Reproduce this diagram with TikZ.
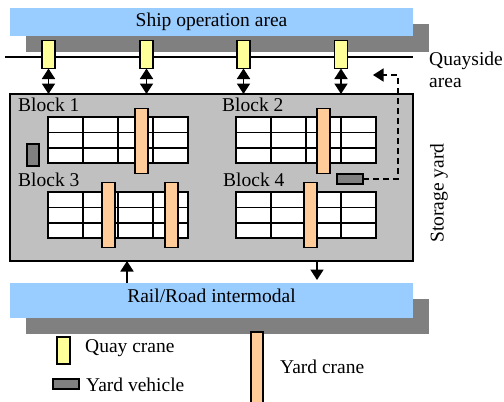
\documentclass[tikz,border=0pt]{standalone}
\usepackage{fontspec}
\setmainfont{Liberation Serif}
\usetikzlibrary{arrows.meta,calc}
\definecolor{seablue}{HTML}{99CCFF}
\definecolor{shadowgrey}{HTML}{808080}
\definecolor{yardgrey}{HTML}{C0C0C0}
\definecolor{quayyellow}{HTML}{FFFF99}
\definecolor{craneorange}{HTML}{FFCC99}
\tikzset{
  box/.style={rectangle,inner sep=0pt,outer sep=0pt},
  areabar/.style={box,fill=seablue,minimum width=403pt,font=\fontsize{19.5}{22}\selectfont},
  barshadow/.style={box,fill=shadowgrey,minimum width=403pt},
  quaycrane/.style={box,draw=black,line width=1.5pt,fill=quayyellow,minimum width=13pt,minimum height=28pt},
  yardcrane/.style={box,draw=black,line width=1.5pt,fill=craneorange,minimum width=13pt,minimum height=65pt},
  vehicle/.style={box,draw=black,line width=1.5pt,fill=shadowgrey},
  label/.style={inner sep=0pt,font=\fontsize{19.5}{22}\selectfont},
  bighead/.tip={Triangle[width=13pt,length=10.5pt]},
  flow/.style={line width=1.8pt,-bighead},
  dflow/.style={line width=1.8pt,bighead-bighead},
}
% a storage block: 4 bays x 3 rows, top-left corner at #1,#2
\newcommand{\stackgrid}[2]{%
  \draw[line width=1.5pt,fill=white] (#1,#2) rectangle ++(140,46);
  \foreach \c in {35,70,105}{\draw[line width=1.5pt] (#1+\c,#2) -- ++(0,46);}
  \foreach \r in {15.5,31}{\draw[line width=1.5pt] (#1,#2+\r) -- ++(140,0);}
}
\begin{document}
\begin{tikzpicture}[x=1pt,y=-1pt]
\useasboundingbox (0,0) rectangle (504,402);
\clip (0,0) rectangle (504,402);

% ship side
\node[barshadow,minimum height=28pt] (topshadow) at (227.5,38) {};
\node[areabar,minimum height=28pt] (ship) at (211.5,22) {Ship operation area};
\draw[line width=1.8pt] (5,57) coordinate (quayL) -- (413,57) coordinate (quayR);
\node[label,anchor=west] (quayside) at (429,61) {Quayside};
\node[label,anchor=west] (quaysidearea) at (429,83) {area};

% storage yard
\node[box,draw=black,line width=1.5pt,fill=yardgrey,minimum width=403pt,minimum height=167pt] (yard) at (211.5,177.5) {};
\node[label,rotate=90] (yardlabel) at (439,193) {Storage yard};

% quay cranes and their transfers to the yard
\foreach \i/\x in {1/48.5,2/146.5,3/243.5,4/341}{
  \node[quaycrane] (qc\i) at (\x,54.5) {};
  \draw[dflow] (qc\i.south) -- (qc\i.south |- yard.north);
}

% blocks
\node[label,anchor=west] (blk1) at (18,105) {Block 1};
\node[label,anchor=west] (blk2) at (222,105) {Block 2};
\node[label,anchor=west] (blk3) at (18,180) {Block 3};
\node[label,anchor=west] (blk4) at (223,180) {Block 4};
\stackgrid{48}{117}
\stackgrid{236}{117}
\stackgrid{48}{192}
\stackgrid{236}{192}

% yard cranes
\node[yardcrane] (yc1) at (141.5,141) {};
\node[yardcrane] (yc2) at (323.5,141) {};
\node[yardcrane] (yc3) at (108.5,215) {};
\node[yardcrane] (yc4) at (171.5,215) {};
\node[yardcrane] (yc5) at (310.5,215) {};

% yard vehicles
\node[vehicle,minimum width=12pt,minimum height=22pt] (v1) at (33,155) {};
\node[vehicle,minimum width=26pt,minimum height=10pt] (v2) at (350,179) {};
\coordinate (vtip) at (373,75);
\draw[line width=1.5pt,dash pattern=on 6pt off 4pt,-bighead]
  (v2.east) -- ($(v2.east)+(35,0)$) |- (vtip);

% hinterland side
\node[barshadow,minimum height=35pt] (railshadow) at (227.5,316.5) {};
\node[areabar,minimum height=35pt] (rail) at (211.5,300.5) {};
\node[label] (railtext) at (211.5,296) {Rail/Road intermodal};
\draw[flow] ([xshift=-84.5pt]rail.north) -- ([xshift=-84.5pt]rail.north |- yard.south);
\draw[flow] ([xshift=105.5pt]yard.south) -- ++(0,19);

% legend
\node[quaycrane,minimum height=27pt] (lqc) at (63.5,350.5) {};
\node[label,anchor=west] (lqctext) at (85,348) {Quay crane};
\node[vehicle,minimum width=26pt,minimum height=10pt] (lv) at (66,384) {};
\node[label,anchor=west] (lvtext) at (86,385) {Yard vehicle};
\node[yardcrane,minimum width=12pt,minimum height=80pt] (lyc) at (257,372) {};
\node[label,anchor=west] (lyctext) at (280,367) {Yard crane};
\end{tikzpicture}
\end{document}
